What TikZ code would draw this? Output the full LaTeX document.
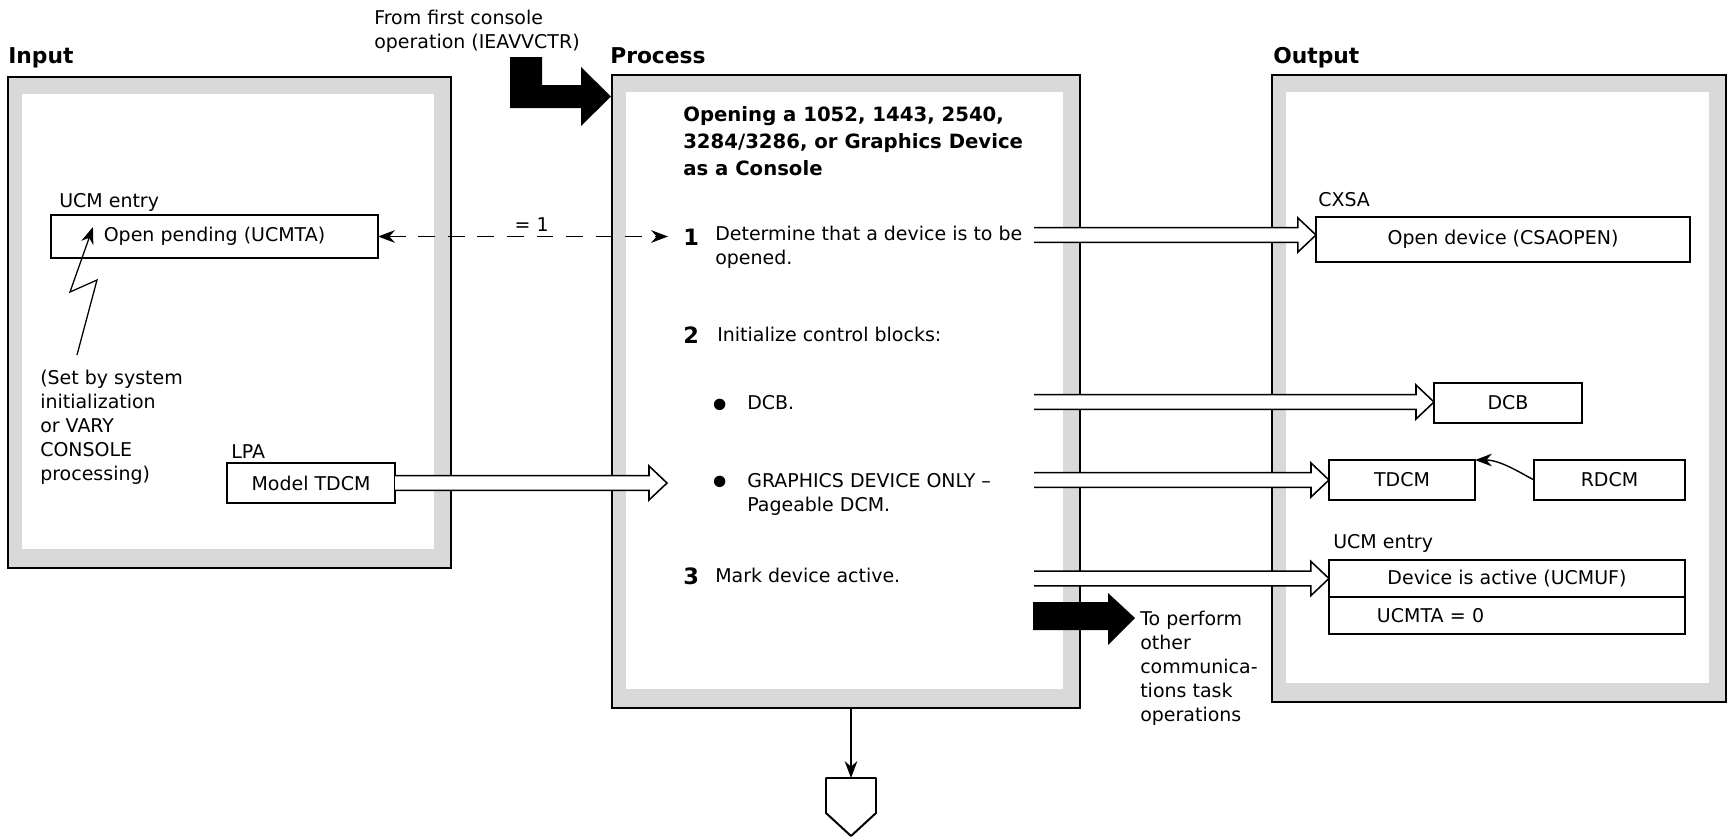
\documentclass[tikz,border=0pt]{standalone}
\usepackage{fontspec}
\setmainfont{DejaVu Sans}
\usetikzlibrary{arrows.meta,calc}

% framed column with the grey inner band
\newcommand{\panel}[2]{%
  \fill[gray!30] (#1) rectangle (#2);
  \fill[white] ($(#1)+(14,17)$) rectangle ($(#2)+(-17,-19)$);
  \draw[line width=1.5pt] (#1) rectangle (#2);}

% wide open arrow, always horizontal
\newcommand{\hollowarrow}[2]{%
  \fill[white] let \p1=(#1), \p2=(#2) in
    (\x1,\y1+5.3pt) -- (\x2-12.8pt,\y1+5.3pt) -- (\x2-12.8pt,\y1+12.1pt) -- (\x2,\y1)
    -- (\x2-12.8pt,\y1-12.1pt) -- (\x2-12.8pt,\y1-5.3pt) -- (\x1,\y1-5.3pt) -- cycle;
  \draw[line width=1.1pt] let \p1=(#1), \p2=(#2) in
    (\x1,\y1+5.3pt) -- (\x2-12.8pt,\y1+5.3pt) -- (\x2-12.8pt,\y1+12.1pt) -- (\x2,\y1)
    -- (\x2-12.8pt,\y1-12.1pt) -- (\x2-12.8pt,\y1-5.3pt) -- (\x1,\y1-5.3pt);}

\begin{document}
\begin{tikzpicture}[x=0.025cm,y=-0.025cm,
    every node/.style={font=\fontsize{13.5}{17}\selectfont},
    head/.style={font=\bfseries\fontsize{15.5}{18}\selectfont, inner sep=0pt, anchor=base west},
    box/.style={draw, line width=1.4pt, inner sep=0pt, outer sep=0pt},
    lbl/.style={inner sep=0pt, anchor=base west},
    txt/.style={inner sep=0pt, align=left, anchor=north west},
    num/.style={font=\bfseries\fontsize{16}{19}\selectfont, inner sep=0pt, anchor=west},
    dot/.style={inner sep=0pt, font=\fontsize{28}{28}\selectfont},
    tip/.style={-{Stealth[length=12pt,width=9pt]}}]
  \useasboundingbox (0,0) rectangle (1729,837);

  % the three columns
  \panel{8,77}{451,568}
  \panel{612,75}{1080,708}
  \panel{1272,75}{1726,702}
  \node[head] at (8,63) {Input};
  \node[head] at (610,63) {Process};
  \node[head] at (1273,63) {Output};

  % entry arrow
  \node[txt] (from) at (374,10) {From first console\\operation (IEAVVCTR)};
  \fill (510,57) -- (542,57) -- (542,85) -- (581,85) -- (581,67) -- (611,96.5)
    -- (581,126) -- (581,108) -- (510,108) -- cycle;

  % input
  \node[box, minimum width=8.175cm, minimum height=1.075cm] (ucmin) at (214.5,236.5) {Open pending (UCMTA)};
  \node[lbl] at (59,207) {UCM entry};
  \node[txt] (setby) at (40,370) {(Set by system\\initialization\\or VARY\\CONSOLE\\processing)};
  \node[box, minimum width=4.2cm, minimum height=1cm] (model) at (311,483) {Model TDCM};
  \node[lbl] at (231,458) {LPA};
  \draw[tip, line width=0.9pt] ($(setby.north west)+(37,-15)$) -- (97,280) -- (70,292)
    -- ($(ucmin.north west)+(42,12)$);

  % process
  \node[txt, font=\bfseries\fontsize{14}{19.2}\selectfont] (title) at (683,106)
    {Opening a 1052, 1443, 2540,\\3284/3286, or Graphics Device\\as a Console};
  \node[num] (n1) at (683,237) {1};
  \node[txt] (st1) at (715,226) {Determine that a device is to be\\opened.};
  \node[num] (n2) at (683,335) {2};
  \node[lbl, anchor=west] (st2) at (717,334) {Initialize control blocks:};
  \node[dot] (b1) at (720,409) {\textbullet};
  \node[lbl, anchor=west] (st2a) at (747,403) {DCB.};
  \node[dot] (b2) at (720,486) {\textbullet};
  \node[txt] (st2b) at (747,473) {GRAPHICS DEVICE ONLY --\\Pageable DCM.};
  \node[num] (n3) at (683,576) {3};
  \node[lbl, anchor=west] (st3) at (715,575) {Mark device active.};

  % output
  \node[box, minimum width=9.35cm, minimum height=1.125cm] (csa) at (1503,239.5) {Open device (CSAOPEN)};
  \node[lbl] at (1318,206) {CXSA};
  \node[box, minimum width=3.7cm, minimum height=1cm] (dcb) at (1508,403) {DCB};
  \node[box, minimum width=3.65cm, minimum height=1cm] (tdcm) at (1402,480) {TDCM};
  \node[box, minimum width=3.775cm, minimum height=1cm] (rdcm) at (1609.5,480) {RDCM};
  \node[box, minimum width=8.9cm, minimum height=0.925cm] (ucmuf) at (1507,578.5) {Device is active (UCMUF)};
  \node[box, minimum width=8.9cm, minimum height=0.925cm, text width=6.5cm, align=left,
    anchor=north] (ucmta) at (ucmuf.south) {UCMTA = 0};
  \node[lbl] at (1333,548) {UCM entry};
  \draw[tip, line width=1pt] (rdcm.west) .. controls +(-15,-8) and +(25,0) .. (tdcm.north east);

  % connectors
  \draw[{Stealth[length=12pt,width=9pt]}-{Stealth[length=12pt,width=9pt]}, line width=1pt,
    dash pattern=on 12pt off 9pt] (ucmin.east) -- (668,236.5)
    node[pos=0.53, above=3pt, inner sep=0pt] {= 1};
  \coordinate (s1) at (1034,235);
  \coordinate (s2) at (1034,402);
  \coordinate (s3) at (1034,480);
  \coordinate (s4) at (1034,578.5);
  \coordinate (g1) at (667,483);
  \hollowarrow{s1}{csa.west |- s1}
  \hollowarrow{s2}{dcb.west |- s2}
  \hollowarrow{model.east}{g1}
  \hollowarrow{s3}{tdcm.west}
  \hollowarrow{s4}{ucmuf.west}

  % exit arrow
  \fill (1033,602) -- (1108,602) -- (1108,593) -- (1135,618) -- (1108,645) -- (1108,630)
    -- (1033,630) -- cycle;
  \node[txt] (next) at (1140,611) {To perform\\other\\communica-\\tions task\\operations};

  % off-page connector
  \coordinate (pbot) at (851,708);
  \coordinate (offpage) at (851,778);
  \draw[tip, line width=1pt] (pbot) -- (offpage);
  \draw[line width=1.4pt, line join=round] (offpage) ++(-25,0) -- ++(50,0) -- ++(0,35)
    -- ++(-25,23) -- ++(-25,-23) -- cycle;
\end{tikzpicture}
\end{document}
